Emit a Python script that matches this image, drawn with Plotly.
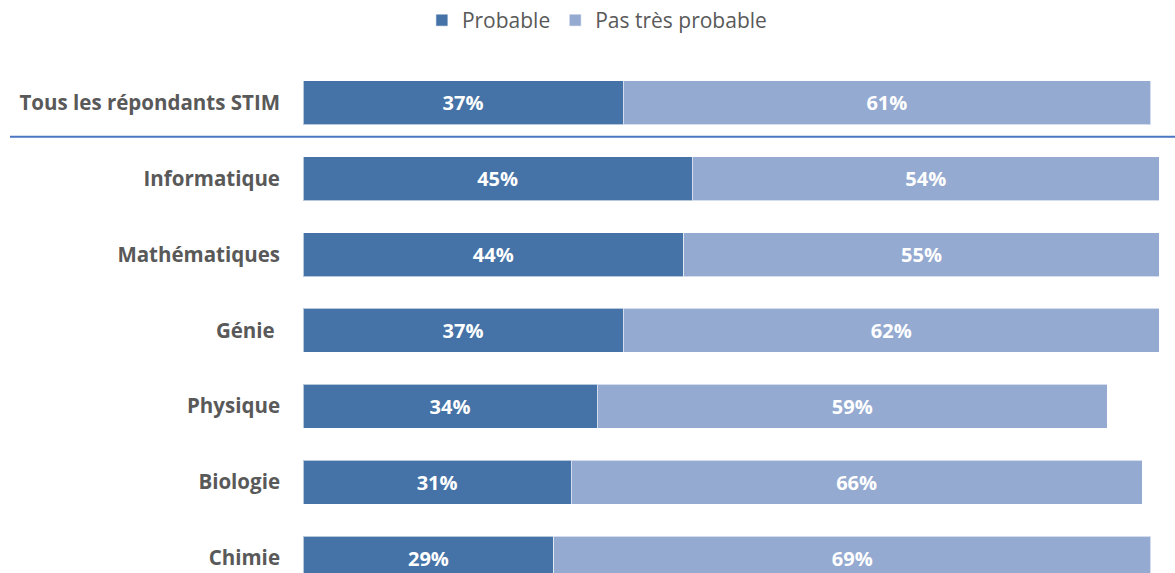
import plotly.graph_objects as go

categories = ["Tous les répondants STIM", "Informatique", "Mathématiques", "Génie\u00a0", "Physique", "Biologie", "Chimie"]
probable = [37, 45, 44, 37, 34, 31, 29]
pas_tres_probable = [61, 54, 55, 62, 59, 66, 69]
series_names = ["Probable", "Pas très probable"]

W, H = 1175, 573
L, R, T, B = 303, 0, 40, 0
row_px = 76.0
first_center_px = 102.0
x_px_per_unit = 8.65

y_top = (T - first_center_px) / row_px
y_bot = (H - B - first_center_px) / row_px
x_max = (W - L - R) / x_px_per_unit

pos = list(range(len(categories)))
dark = "#4573A7"
light = "#95AAD1"
grey = "#595959"

fig = go.Figure()
fig.add_trace(go.Bar(
    y=pos, x=probable, orientation="h", name=series_names[0],
    marker=dict(color=dark, line=dict(color="rgba(255,255,255,0.6)", width=1)),
    text=[f"{v}%" for v in probable], textposition="inside", insidetextanchor="middle",
    textfont=dict(color="white", size=20, family="Open Sans", weight="bold"),
    width=0.58,
))
fig.add_trace(go.Bar(
    y=pos, x=pas_tres_probable, orientation="h", name=series_names[1],
    marker=dict(color=light, line=dict(color="rgba(255,255,255,0.6)", width=1)),
    text=[f"{v}%" for v in pas_tres_probable], textposition="inside", insidetextanchor="middle",
    textfont=dict(color="white", size=20, family="Open Sans", weight="bold"),
    width=0.58,
))

# separator line between overall row and field rows
sep_y = 0.447
sep_paper = 1 - ((sep_y - y_top) / (y_bot - y_top))
fig.add_shape(type="line", xref="paper", yref="paper",
              x0=(10 - L) / (W - L - R), x1=1.0, y0=sep_paper, y1=sep_paper,
              line=dict(color="#4A76C4", width=2))

fig.update_layout(
    width=W, height=H,
    barmode="stack",
    margin=dict(l=L, r=R, t=T, b=B),
    plot_bgcolor="white", paper_bgcolor="white",
    showlegend=True,
    legend=dict(orientation="h", x=0.508, xref="container", xanchor="center",
                y=1.0, yref="container", yanchor="top",
                font=dict(size=21, color=grey, family="Open Sans"),
                itemwidth=30, traceorder="normal"),
    font=dict(family="Open Sans", color=grey),
)
fig.update_xaxes(range=[0, x_max], visible=False, fixedrange=True)
fig.update_yaxes(range=[y_bot, y_top], tickvals=pos, ticktext=categories,
                 tickfont=dict(size=20.5, color=grey, family="Open Sans", weight="bold"),
                 showgrid=False, zeroline=False, showline=False,
                 ticks="", ticklabelstandoff=22, fixedrange=True)

fig.write_html("out.html", config={"displayModeBar": False},
               post_script="document.body.style.margin='0';document.body.style.overflow='hidden';")
